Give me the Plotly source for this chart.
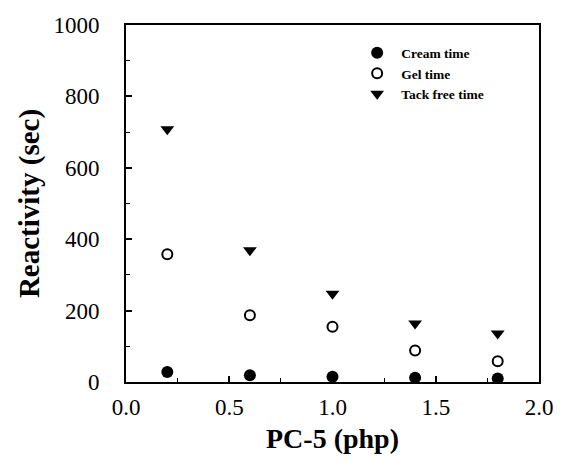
import plotly.graph_objects as go

pc5 = [0.2, 0.6, 1.0, 1.4, 1.8]
cream_time = [28, 19, 15, 12, 10]
gel_time = [358, 187, 155, 88, 58]
tack_free_time = [708, 369, 247, 164, 136]

x_ticks = [0.0, 0.5, 1.0, 1.5, 2.0]
x_tick_labels = ["0.0", "0.5", "1.0", "1.5", "2.0"]
y_ticks = [0, 200, 400, 600, 800, 1000]
y_tick_labels = ["0", "200", "400", "600", "800", "1000"]

FONT = "Liberation Serif"

fig = go.Figure()
fig.add_trace(go.Scatter(x=pc5, y=cream_time, mode="markers", name="<b>Cream time</b>",
                         marker=dict(symbol="circle", size=12, color="black")))
fig.add_trace(go.Scatter(x=pc5, y=gel_time, mode="markers", name="<b>Gel time</b>",
                         marker=dict(symbol="circle-open", size=10, color="black",
                                     line=dict(width=2, color="black"))))
fig.add_trace(go.Scatter(x=pc5, y=tack_free_time, mode="markers", name="<b>Tack free time</b>",
                         marker=dict(symbol="triangle-down", size=12, color="black")))

fig.update_layout(
    width=565, height=461,
    margin=dict(l=126, r=19, t=25, b=75),
    paper_bgcolor="white", plot_bgcolor="white",
    font=dict(family=FONT, color="black"),
    showlegend=True,
    legend=dict(x=0.55, y=0.965, xanchor="left", yanchor="top",
                font=dict(family=FONT, size=13.5, color="black"),
                bgcolor="rgba(0,0,0,0)", tracegroupgap=0, itemwidth=38),
    xaxis=dict(range=[0, 2.0], tickvals=x_ticks, ticktext=x_tick_labels,
               ticks="inside", ticklen=6, tickwidth=1.5, tickcolor="black",
               minor=dict(ticks="inside", ticklen=4, dtick=0.25, tickcolor="black", tickwidth=1),
               showline=True, linecolor="black", linewidth=2, mirror=True,
               showgrid=False, zeroline=False,
               tickfont=dict(family=FONT, size=23, color="black"),
               ticklabelstandoff=3,
               title=dict(text="<b>PC-5 (php)</b>", font=dict(family=FONT, size=28, color="black"),
                          standoff=10)),
    yaxis=dict(range=[0, 1000], tickvals=y_ticks, ticktext=y_tick_labels,
               ticks="inside", ticklen=6, tickwidth=1.5, tickcolor="black",
               minor=dict(ticks="inside", ticklen=4, dtick=100, tickcolor="black", tickwidth=1),
               showline=True, linecolor="black", linewidth=2, mirror=True,
               showgrid=False, zeroline=False,
               tickfont=dict(family=FONT, size=23, color="black"),
               ticklabelstandoff=20,
               title=dict(text="<b>Reactivity (sec)</b>", font=dict(family=FONT, size=29, color="black"),
                          standoff=5)),
)

fig.write_html("out.html", config={"displayModeBar": False},
               post_script="document.body.style.margin='0px';")
